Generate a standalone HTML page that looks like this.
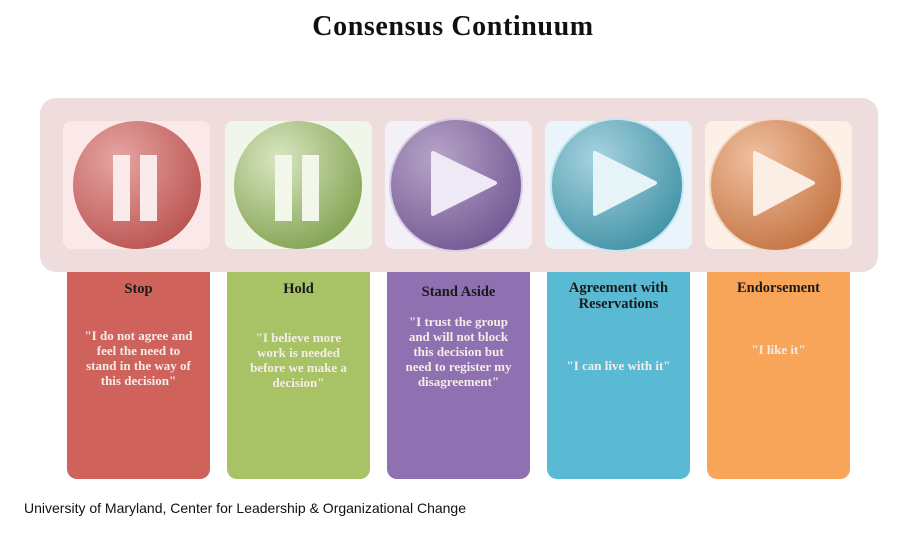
<!DOCTYPE html>
<html><head><meta charset="utf-8"><style>
body{margin:0;width:906px;height:535px;background:#fff;position:relative;overflow:hidden;font-family:"Liberation Serif",serif;}
.t{position:absolute;left:0;width:906px;top:11px;text-align:center;font-weight:bold;font-size:28px;color:#111;letter-spacing:0.6px;}
.band{position:absolute;left:40px;top:98px;width:838px;height:174px;background:#efdcdd;border-radius:16px;}
.tile{position:absolute;top:121px;width:147px;height:128px;border-radius:8px;}
.card{position:absolute;top:272px;width:143px;height:207px;border-radius:0 0 10px 10px;text-align:center;}
.h{font-weight:bold;font-size:14.5px;color:#1a1a1a;line-height:16px;margin-top:8px;}
.q{font-weight:bold;font-size:13px;color:#f4ece8;line-height:15px;margin:0 12px;}
.f{position:absolute;left:24px;top:500px;font-family:"Liberation Sans",sans-serif;font-size:14px;color:#111;}
</style></head><body>
<div class="t">Consensus Continuum</div>
<div class="band"></div>
<div class="tile" style="left:63px;background:#fbe9e9"></div>
<div class="tile" style="left:225px;background:#f1f6ea"></div>
<div class="tile" style="left:385px;background:#f3f0f8"></div>
<div class="tile" style="left:545px;background:#e9f5fa"></div>
<div class="tile" style="left:705px;background:#fdf0e6"></div>
<svg width="906" height="535" style="position:absolute;left:0;top:0">
<defs>
<radialGradient id="gr" cx="0.35" cy="0.3" r="0.8"><stop offset="0" stop-color="#e6a5a2"/><stop offset="1" stop-color="#b9504e"/></radialGradient>
<radialGradient id="gg" cx="0.35" cy="0.3" r="0.8"><stop offset="0" stop-color="#d9e6c2"/><stop offset="1" stop-color="#7ea04c"/></radialGradient>
<radialGradient id="gp" cx="0.35" cy="0.3" r="0.8"><stop offset="0" stop-color="#b7a4c8"/><stop offset="1" stop-color="#6f5590"/></radialGradient>
<radialGradient id="gb" cx="0.35" cy="0.3" r="0.8"><stop offset="0" stop-color="#a6d3df"/><stop offset="1" stop-color="#3d8fa4"/></radialGradient>
<radialGradient id="go" cx="0.35" cy="0.3" r="0.8"><stop offset="0" stop-color="#f0c0a0"/><stop offset="1" stop-color="#c2703e"/></radialGradient>
</defs>
<circle cx="137" cy="185" r="64" fill="url(#gr)"/>
<rect x="113" y="155" width="17" height="66" fill="#fbeaea"/><rect x="140" y="155" width="17" height="66" fill="#fbeaea"/>
<circle cx="298" cy="185" r="64" fill="url(#gg)"/>
<rect x="275" y="155" width="17" height="66" fill="#f2f7ea"/><rect x="302" y="155" width="17" height="66" fill="#f2f7ea"/>
<circle cx="456" cy="185" r="66" fill="url(#gp)" stroke="#d8cde4" stroke-width="2"/>
<path d="M433 153 L495 183 L433 214 Z" fill="#eee9f4" stroke="#eee9f4" stroke-width="4" stroke-linejoin="round"/>
<circle cx="617" cy="185" r="66" fill="url(#gb)" stroke="#c8e6ee" stroke-width="2"/>
<path d="M595 153 L655 183 L595 214 Z" fill="#e6f4f8" stroke="#e6f4f8" stroke-width="4" stroke-linejoin="round"/>
<circle cx="776" cy="185" r="66" fill="url(#go)" stroke="#f0d8c8" stroke-width="2"/>
<path d="M755 153 L813 183 L755 214 Z" fill="#fbeee4" stroke="#fbeee4" stroke-width="4" stroke-linejoin="round"/>
</svg>
<div class="card" style="left:67px;background:#cf625b"><div class="h" style="margin-top:9px">Stop</div><div class="q" style="margin-top:31px;margin-left:15px;margin-right:15px">"I do not agree and feel the need to stand in the way of this decision"</div></div>
<div class="card" style="left:227px;background:#a8c365"><div class="h" style="margin-top:9px">Hold</div><div class="q" style="margin-top:33px;margin-left:14px;margin-right:14px">"I believe more work is needed before we make a decision"</div></div>
<div class="card" style="left:387px;background:#8f70b0"><div class="h" style="margin-top:12px">Stand Aside</div><div class="q" style="margin-top:14px">"I trust the group and will not block this decision but need to register my disagreement"</div></div>
<div class="card" style="left:547px;background:#5bbad3"><div class="h">Agreement with Reservations</div><div class="q" style="margin-top:46px">"I can live with it"</div></div>
<div class="card" style="left:707px;background:#f8a55a"><div class="h">Endorsement</div><div class="q" style="margin-top:46px">"I like it"</div></div>
<div class="f">University of Maryland, Center for Leadership &amp; Organizational Change</div>
</body></html>
